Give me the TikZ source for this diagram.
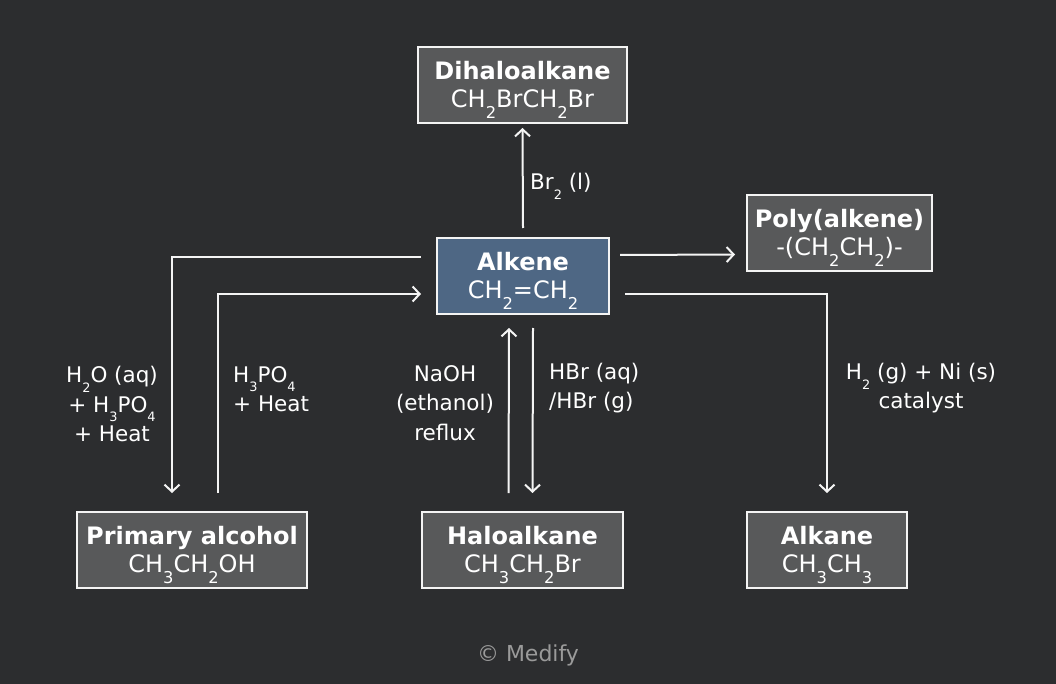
\documentclass[tikz,border=0pt]{standalone}
\usepackage{fontspec}
\setmainfont{DejaVu Sans}
\usepackage{tikz}
\usetikzlibrary{arrows.meta}
\definecolor{bgdark}{HTML}{2C2D2F}
\definecolor{boxgray}{HTML}{58595A}
\definecolor{boxblue}{HTML}{4E6784}
\definecolor{linewhite}{HTML}{F4F4F4}
\definecolor{markgray}{HTML}{9A9A9A}
\tikzstyle{cpd} = [draw=linewhite, line width=2pt, fill=boxgray, text=white, align=center, inner sep=0pt, minimum height=76pt, font=\fontsize{24}{28}\selectfont]
\tikzstyle{cond} = [text=white, inner sep=0pt, font=\fontsize{21.5}{29.5}\selectfont]
\tikzstyle{arr} = [draw=linewhite, line width=2pt, -{Straight Barb[length=7pt,width=15pt]}]
\newcommand{\lo}[2][0.68]{\smash{\raisebox{-0.46em}{\scalebox{#1}{#2}}}}

\begin{document}
\begin{tikzpicture}[x=1pt,y=-1pt]
  \fill[bgdark] (0,0) rectangle (1056,684);
  \useasboundingbox (0,0) rectangle (1056,684);
  % Verbindungen
  \node[cpd, fill=boxblue, minimum width=172pt] (alkene) at (523,276) {{\bfseries Alkene}\\CH\lo{2}=CH\lo{2}};
  \node[cpd, minimum width=209pt] (dihalo) at (522.5,85) {{\bfseries Dihaloalkane}\\CH\lo{2}BrCH\lo{2}Br};
  \node[cpd, minimum width=185pt] (poly) at (839.5,233.5) {{\bfseries Poly(alkene)}\\-(CH\lo{2}CH\lo{2})-};
  \node[cpd, minimum width=230pt] (alcohol) at (192,550) {{\bfseries Primary alcohol}\\CH\lo{3}CH\lo{2}OH};
  \node[cpd, minimum width=201pt] (halo) at (522.5,550) {{\bfseries Haloalkane}\\CH\lo{3}CH\lo{2}Br};
  \node[cpd, minimum width=160pt] (alkane) at (827,550) {{\bfseries Alkane}\\CH\lo{3}CH\lo{3}};
  % Pfeile
  \draw[arr] ([yshift=9pt]alkene.north) -- ([yshift=-4pt]dihalo.south);
  \draw[arr] ([xshift=10pt,yshift=21pt]alkene.east) -- ([xshift=-11pt,yshift=-21pt]poly.west);
  \draw[arr] ([xshift=-15pt,yshift=19pt]alkene.west) -| ([xshift=-20pt,yshift=18pt]alcohol.north);
  \draw[arr] ([xshift=26pt,yshift=18pt]alcohol.north) |- ([xshift=-15pt,yshift=-18pt]alkene.west);
  \draw[arr] ([xshift=-14pt,yshift=18pt]halo.north) -- ([xshift=-14pt,yshift=-13pt]alkene.south);
  \draw[arr] ([xshift=10pt,yshift=-13pt]alkene.south) -- ([xshift=10pt,yshift=18pt]halo.north);
  \draw[arr] ([xshift=15pt,yshift=-18pt]alkene.east) -| ([yshift=18pt]alkane.north);
  % Bedingungen
  \node[cond, anchor=west] (brom) at (530,183) {Br\lo[0.6]{2} (l)};
  \node[cond, align=center] (hydra) at (112,404) {H\lo[0.6]{2}O (aq)\\+ H\lo[0.6]{3}PO\lo[0.6]{4}\\+ Heat};
  \node[cond, align=left, anchor=west] (dehyd) at (233,389) {H\lo[0.6]{3}PO\lo[0.6]{4}\\+ Heat};
  \node[cond, align=center] (elim) at (445,403) {NaOH\\(ethanol)\\reflux};
  \node[cond, align=left, anchor=west] (addhbr) at (549,388) {HBr (aq)\\/HBr (g)};
  \node[cond, align=center] (hydro) at (921,388) {H\lo[0.6]{2} (g) + Ni (s)\\catalyst};
  % Copyright
  \node[text=markgray, font=\fontsize{22}{26}\selectfont] (mark) at (528,655) {© Medify};
\end{tikzpicture}
\end{document}
